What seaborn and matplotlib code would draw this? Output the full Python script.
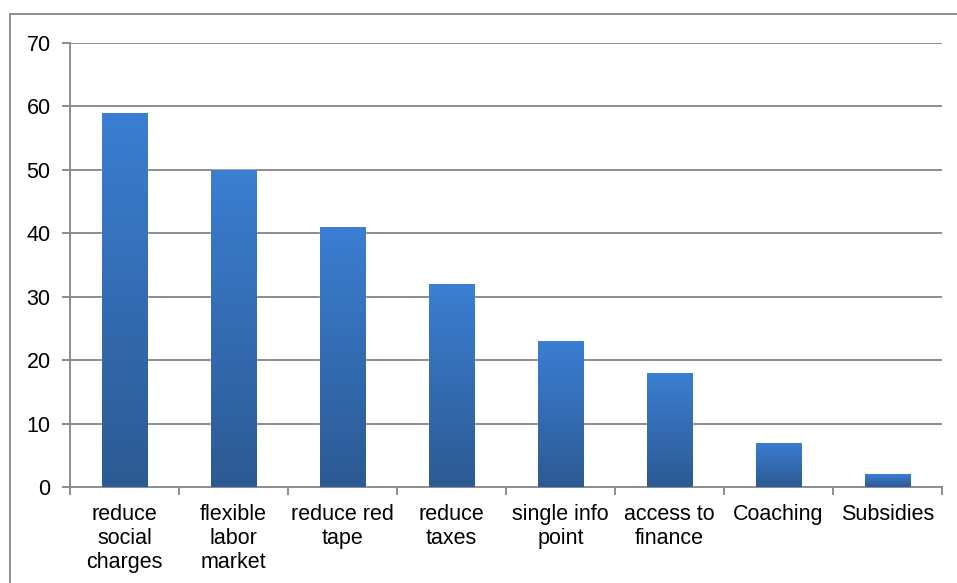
import numpy as np
import pandas as pd
import matplotlib
matplotlib.use("Agg")
import matplotlib.pyplot as plt
import seaborn as sns
from matplotlib.colors import LinearSegmentedColormap
from matplotlib.lines import Line2D

categories = ["reduce\nsocial\ncharges", "flexible\nlabor\nmarket", "reduce red\ntape",
              "reduce\ntaxes", "single info\npoint", "access to\nfinance", "Coaching", "Subsidies"]
values = [59, 50, 41, 32, 23, 18, 7, 2]
yticks = [0, 10, 20, 30, 40, 50, 60, 70]

sns.set_theme(style="white")
plt.rcParams['font.family'] = ['Liberation Sans', 'DejaVu Sans']

fig = plt.figure(figsize=(9.57, 5.83), dpi=100)
ax = fig.add_axes([70/957, 1-487/583, 872/957, 444/583])

df = pd.DataFrame({"cat": categories, "val": values})
sns.barplot(data=df, x="cat", y="val", ax=ax, color="#3A7BCC", width=0.42, saturation=1, zorder=3)

grid_c = "#8C8C8C"
ax.set_ylim(0, 70)
ax.set_xlim(-0.5, len(categories) - 0.5)
ax.set_yticks(yticks)
for y in yticks[1:]:
    ax.axhline(y, color=grid_c, lw=1.4, zorder=1)

cmap = LinearSegmentedColormap.from_list("g", ["#2C5A93", "#3B7ED2"])
grad = np.linspace(0, 1, 256).reshape(-1, 1)
for p in ax.patches:
    x0, y0 = p.get_x(), p.get_y()
    w, h = p.get_width(), p.get_height()
    im = ax.imshow(grad, extent=[x0, x0 + w, y0, y0 + h], origin="lower", cmap=cmap,
                   aspect="auto", zorder=4)
    im.set_clip_path(p)
ax.set_xlim(-0.5, len(categories) - 0.5)
ax.set_ylim(0, 70)

for s in ["top", "right"]:
    ax.spines[s].set_visible(False)
for s in ["left", "bottom"]:
    ax.spines[s].set_color(grid_c)
    ax.spines[s].set_linewidth(1.4)

fs = 15.5
ax.tick_params(axis="y", length=6, width=1.4, color=grid_c, left=True, labelsize=fs, pad=8)
ax.set_yticklabels([str(t) for t in yticks], color="black")
ax.set_xticks(range(len(categories)))
ax.set_xticklabels(categories, fontsize=fs, color="black", linespacing=1.2, va="top")
ax.tick_params(axis="x", length=0, pad=12)
# category boundary ticks
ax.set_xticks(np.arange(-0.5, len(categories), 1.0), minor=True)
ax.tick_params(axis="x", which="minor", length=6, width=1.4, color=grid_c, bottom=True)
ax.set_xlabel("")
ax.set_ylabel("")

# outer chart border (top and left visible)
fig.add_artist(Line2D([10/957, 10/957], [0, 1-14/583], transform=fig.transFigure, color=grid_c, lw=1.4))
fig.add_artist(Line2D([10/957, 1], [1-14/583, 1-14/583], transform=fig.transFigure, color=grid_c, lw=1.4))

fig.savefig("out.png", dpi=100)
